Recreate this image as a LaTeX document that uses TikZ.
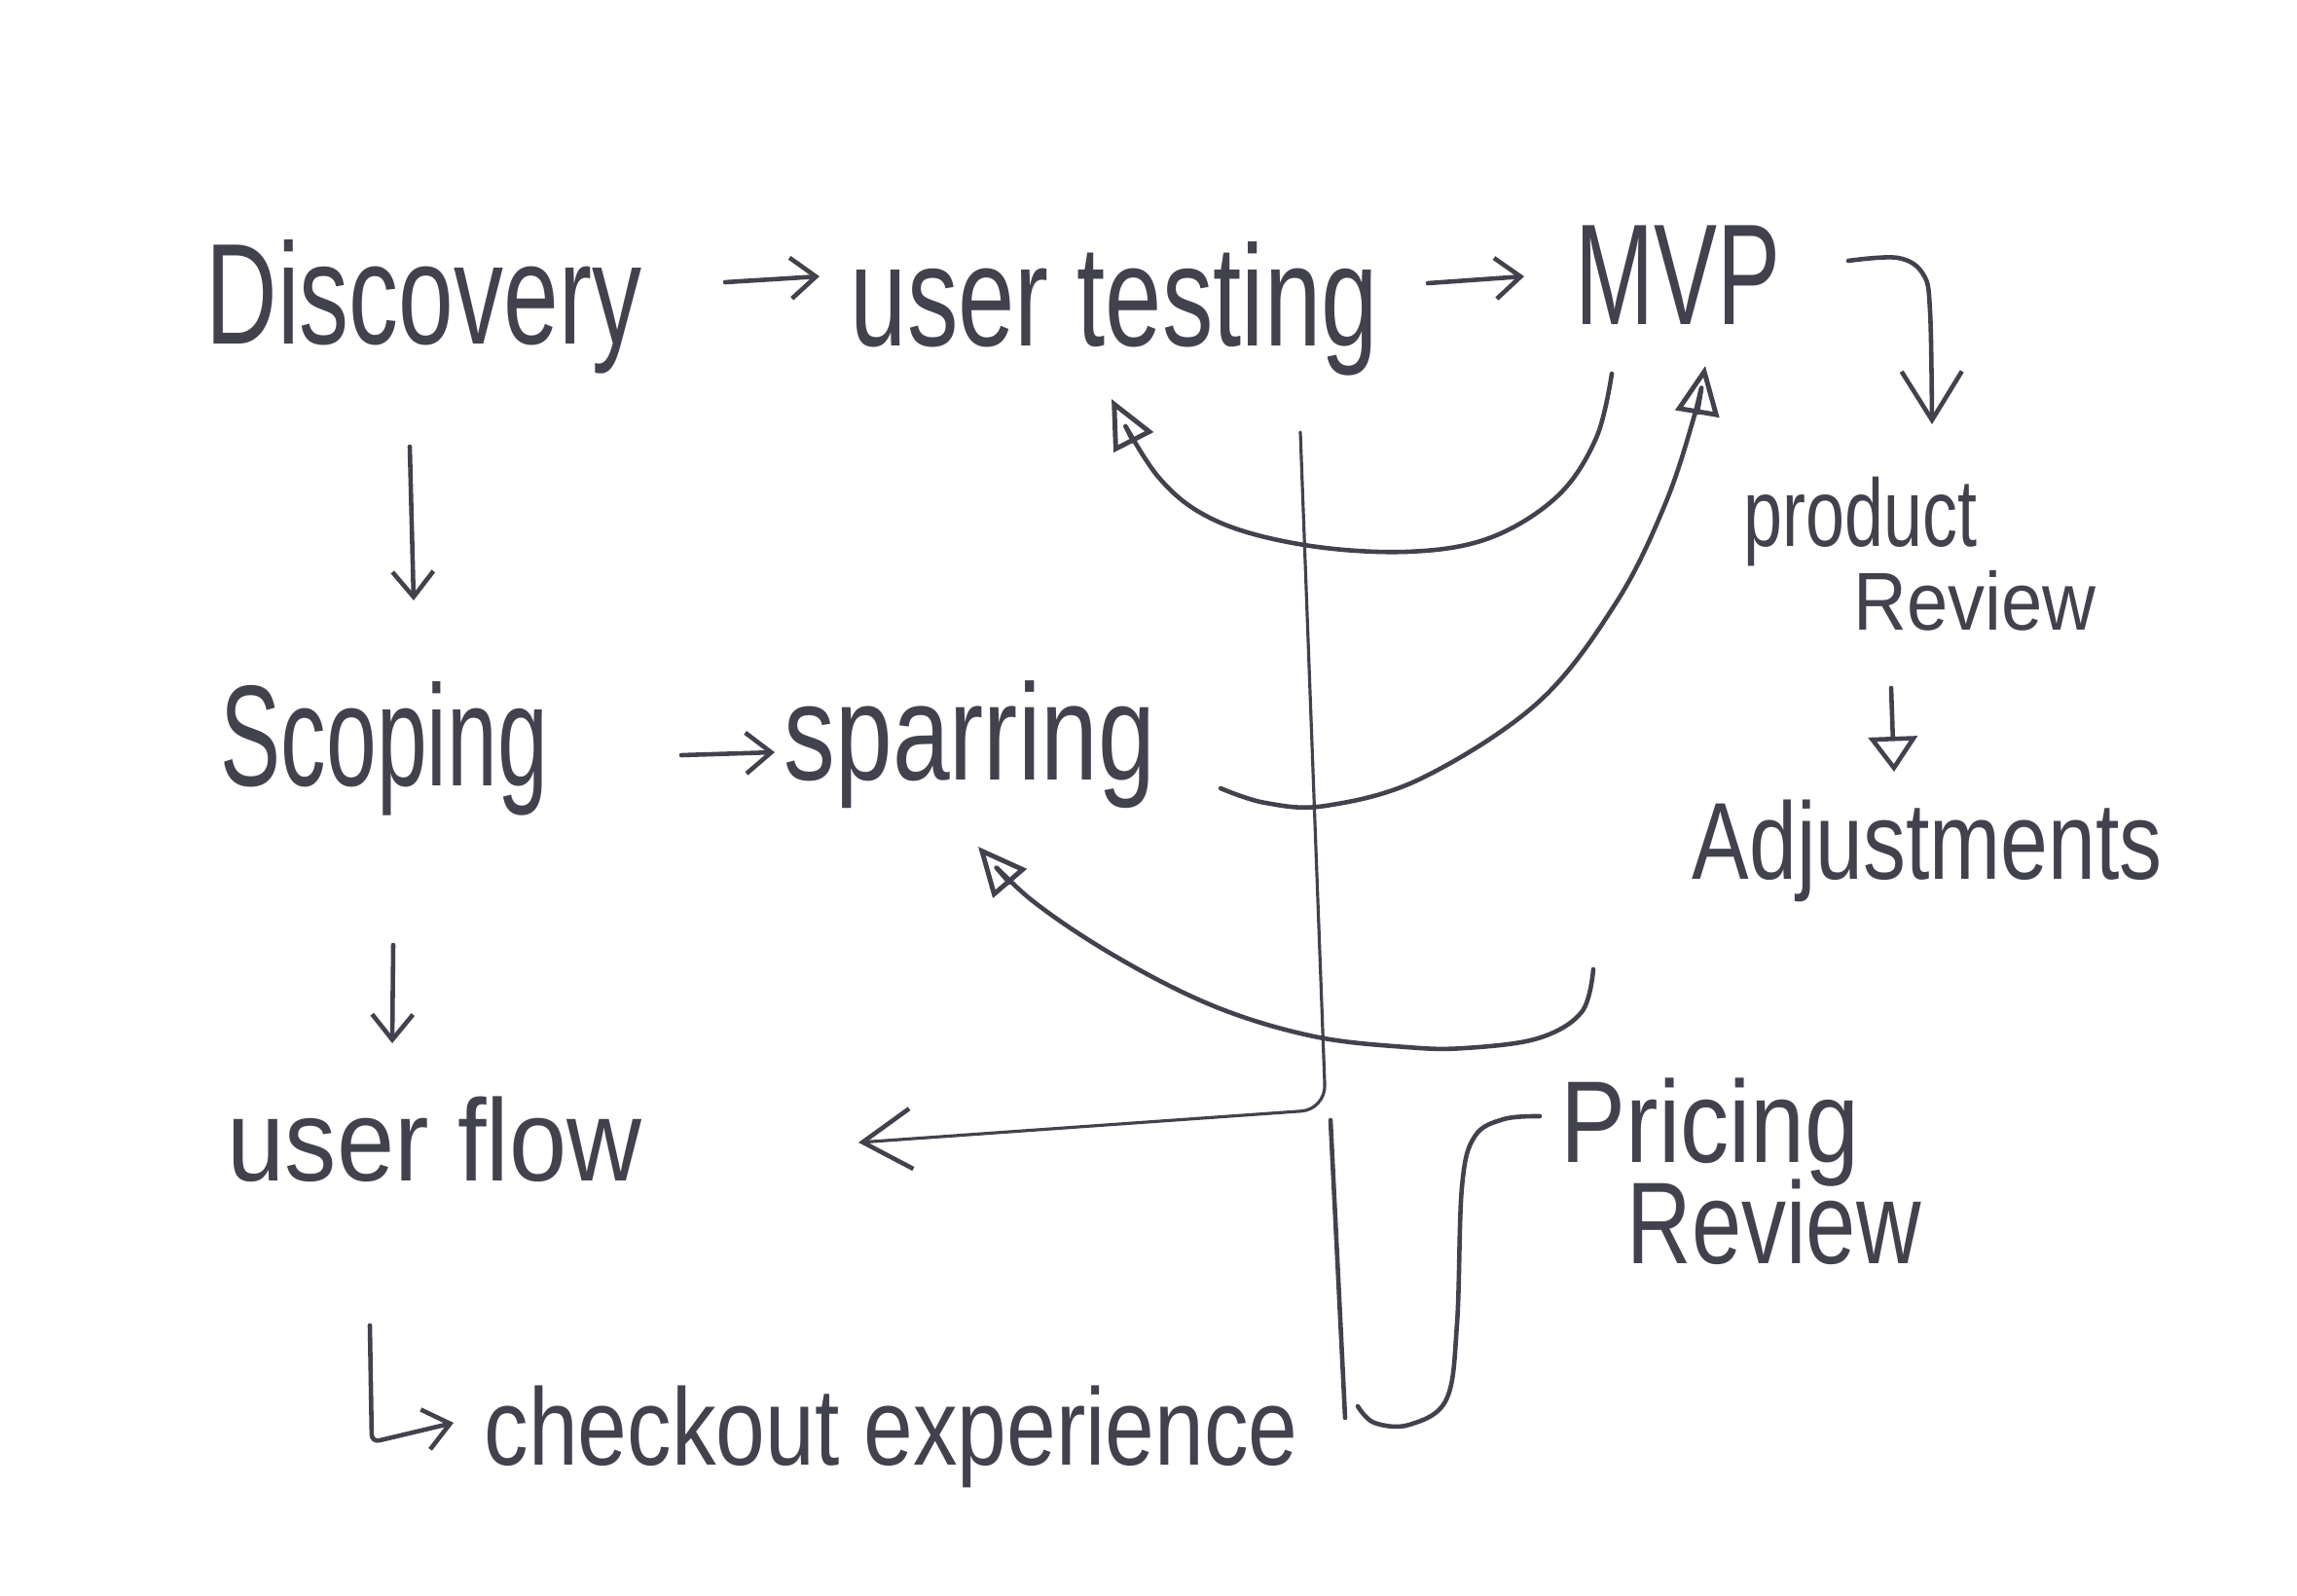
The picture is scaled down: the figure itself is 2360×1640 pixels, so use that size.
\documentclass[tikz,border=0pt]{standalone}
\usepackage{fontspec}
\setmainfont{Liberation Sans}
\usetikzlibrary{arrows.meta}
\definecolor{pencil}{HTML}{42424E}
\newcommand\hw[3]{\fontsize{#1}{#1}\selectfont\scalebox{#2}[1]{#3}}
\begin{document}
\begin{tikzpicture}[x=0.01cm,y=-0.01cm,
  pen/.style={draw=pencil, line width=1.3pt, line cap=round, line join=round},
  thinpen/.style={pen, line width=0.9pt},
  hand/.style={text=pencil, inner sep=0pt, anchor=base west},
  barb/.style={-{Straight Barb[length=0.26cm,width=0.42cm,line width=1.3pt]}},
  bigbarb/.style={-{Straight Barb[length=0.5cm,width=0.62cm,line width=1.3pt]}},
  tri/.style={-{Triangle[open,length=0.5cm,width=0.45cm,line width=1.4pt]}},
  smalltri/.style={-{Triangle[open,length=0.36cm,width=0.5cm,line width=1.3pt]}}]
\fill[white] (0,0) rectangle (2360,1640);
\useasboundingbox (0,0) rectangle (2360,1640);

% text
\node[hand] (discovery) at (211,354) {\hw{42}{0.69}{Discovery}};
\node[hand] (testing) at (873,356) {\hw{42}{0.71}{user testing}};
\node[hand] (mvp) at (1618,334) {\hw{42}{0.66}{MVP}};
\node[hand] (scoping) at (226,808) {\hw{42}{0.63}{Scoping}};
\node[hand] (sparring) at (805,801) {\hw{40}{0.75}{sparring}};
\node[hand] (userflow) at (233,1213) {\hw{34}{0.89}{user flow}};
\node[hand] (checkout) at (497,1505) {\hw{32}{0.81}{checkout experience}};
\node[hand] (product) at (1791,562) {\hw{28}{0.73}{product}};
\node[hand] (review1) at (1904,648) {\hw{24}{0.9}{Review}};
\node[hand] (adjust) at (1738,903) {\hw{32}{0.78}{Adjustments}};
\node[hand] (pricing) at (1603,1194) {\hw{34}{0.84}{Pricing}};
\node[hand] (review2) at (1671,1298) {\hw{34}{0.77}{Review}};

% connector end points
\coordinate (a1s) at (745,290);  \coordinate (a1e) at (842,284);
\coordinate (a2s) at (1467,291); \coordinate (a2e) at (1566,284);
\coordinate (d1s) at (421,459);  \coordinate (d1e) at (425,617);
\coordinate (d2s) at (404,971);  \coordinate (d2e) at (403,1072);
\coordinate (s1s) at (700,776);  \coordinate (s1e) at (796,773);
\coordinate (c0) at (380,1362);  \coordinate (c1) at (382,1482); \coordinate (c2) at (466,1462);
\coordinate (v0) at (1336,444);  \coordinate (v1) at (1362,1140); \coordinate (uf) at (882,1174);
\coordinate (w0) at (1367,1151); \coordinate (w1) at (1382,1457);
\coordinate (pr) at (1582,1147);
\coordinate (pa) at (1943,707);  \coordinate (pb) at (1946,793);

% straight arrows
\draw[pen,barb] (a1s) -- (a1e);
\draw[pen,barb] (a2s) -- (a2e);
\draw[pen,barb] (d1s) -- (d1e);
\draw[pen,barb] (d2s) -- (d2e);
\draw[pen,barb] (s1s) -- (s1e);
\draw[pen,barb,rounded corners=0.08cm] (c0) -- (c1) -- (c2);
\draw[pen,smalltri] (pa) -- (pb);

% hook from MVP to product review
\draw[pen,bigbarb] plot[smooth,tension=0.6] coordinates
  {(1899,268) (1950,265) (1976,282) (1983,320) (1985,436)};

% long vertical line to user flow
\draw[thinpen,bigbarb,rounded corners=0.25cm] (v0) -- (v1) -- (uf);
\draw[pen] (w0) -- (w1);

% bracket to pricing review
\draw[pen] plot[smooth,tension=0.6] coordinates
  {(1395,1445) (1412,1462) (1448,1464) (1486,1438) (1497,1360) (1502,1220) (1515,1168) (1545,1150) (pr)};

% curve A : to user testing
\draw[pen,tri] plot[smooth,tension=0.6] coordinates
  {(1656,384) (1640,450) (1600,510) (1530,553) (1445,567) (1340,560) (1249,535) (1190,490) (1142,410)};

% curve B : to MVP
\draw[pen,tri] plot[smooth,tension=0.6] coordinates
  {(1254,810) (1300,825) (1362,828) (1460,800) (1580,722) (1660,620) (1710,520) (1740,430) (1752,376)};

% curve C : to sparring
\draw[pen,tri] plot[smooth,tension=0.6] coordinates
  {(1637,996) (1625,1040) (1580,1067) (1505,1077) (1445,1076) (1350,1065) (1250,1035) (1150,985) (1060,925) (1005,870)};
\end{tikzpicture}
\end{document}
